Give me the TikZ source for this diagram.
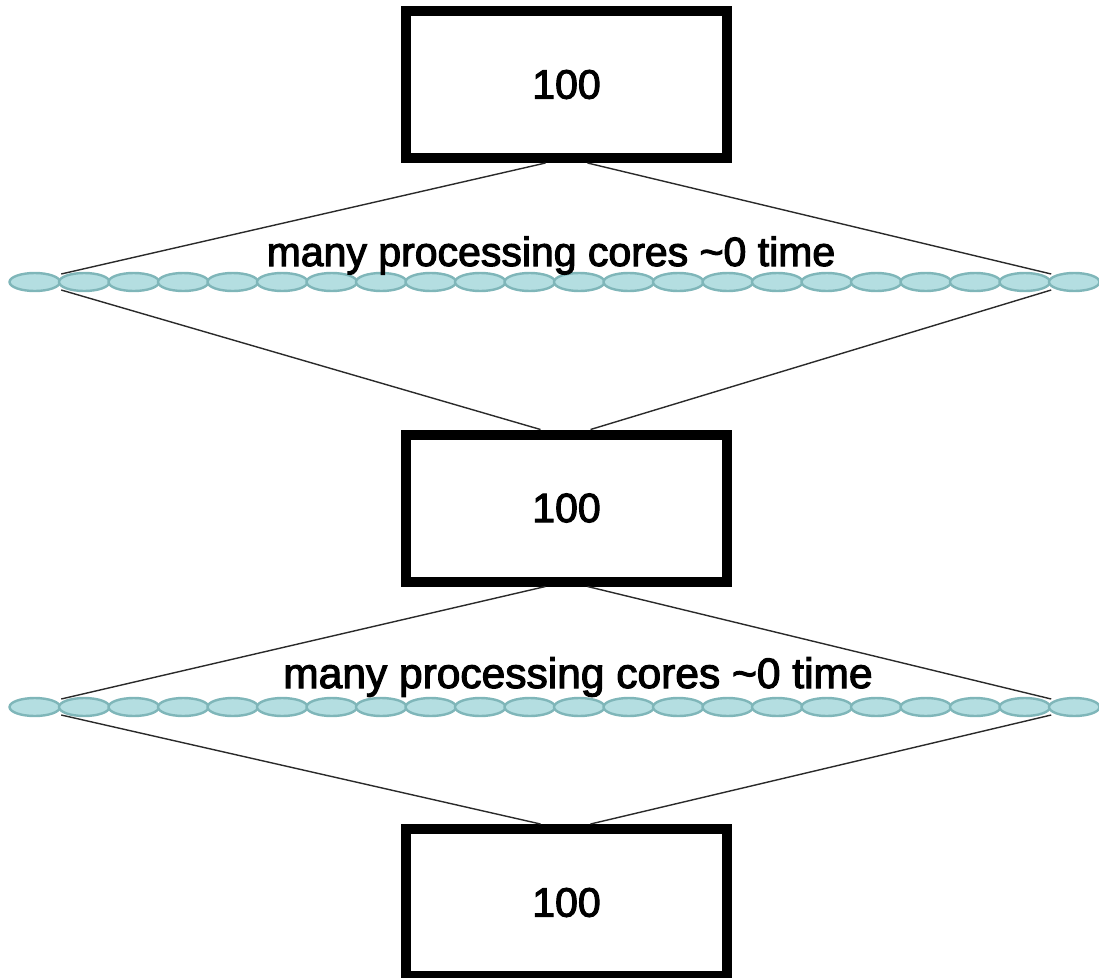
\documentclass[tikz,border=0pt]{standalone}
\usepackage{fontspec}
\setmainfont{Liberation Sans}[AutoFakeBold=2.6]
\usetikzlibrary{shapes.geometric}
\definecolor{corefill}{HTML}{B4DEE1}
\definecolor{coredraw}{HTML}{7FB6B9}
\definecolor{wire}{HTML}{2A2A2A}
\tikzset{
  valbox/.style={draw=black, line width=10pt, fill=white, minimum width=321pt, minimum height=147pt, inner sep=0pt, font=\fontsize{41}{41}\selectfont\bfseries},
  core/.style={ellipse, draw=coredraw, fill=corefill, line width=2.4pt, minimum width=50.5pt, minimum height=18pt, inner sep=0pt},
  wireline/.style={draw=wire, line width=1.4pt},
  caption/.style={inner sep=0pt, anchor=base}
}
\begin{document}
\begin{tikzpicture}[x=1pt,y=-1pt]
\useasboundingbox (0,0) rectangle (1099,977);
% boxes
\node[valbox] (box1) at (566.5,84.5) {100};
\node[valbox] (box2) at (566.5,508) {100};
\node[valbox] (box3) at (566.5,902.5) {100};
% core rows
\foreach \r/\y in {1/282,2/707}{
  \foreach \k in {1,...,22}{
    \node[core] (e\r-\k) at ({10+24.75+49.5*(\k-1)},\y) {};
  }
}
% captions
\node[caption, font=\fontsize{41}{41}\selectfont\bfseries] (cap1) at (551,266) {many processing cores \textasciitilde 0 time};
\node[caption, font=\fontsize{42.5}{42.5}\selectfont\bfseries] (cap2) at (578,688) {many processing cores \textasciitilde 0 time};
% junction coordinates
\coordinate (b1l) at ([xshift=-21pt]box1.south);
\coordinate (b1r) at ([xshift=21pt]box1.south);
\coordinate (b2tl) at ([xshift=-26pt]box2.north);
\coordinate (b2tr) at ([xshift=24pt]box2.north);
\coordinate (b2l) at ([xshift=-21pt]box2.south);
\coordinate (b2r) at ([xshift=21pt]box2.south);
\coordinate (b3tl) at ([xshift=-26pt]box3.north);
\coordinate (b3tr) at ([xshift=24pt]box3.north);
\coordinate (r1lu) at ([yshift=8pt]e1-1.east);
\coordinate (r1ld) at ([yshift=-8pt]e1-1.east);
\coordinate (r1ru) at ([yshift=8pt]e1-21.east);
\coordinate (r1rd) at ([yshift=-8pt]e1-21.east);
\coordinate (r2lu) at ([yshift=8pt]e2-1.east);
\coordinate (r2ld) at ([yshift=-8pt]e2-1.east);
\coordinate (r2ru) at ([yshift=8pt]e2-21.east);
\coordinate (r2rd) at ([yshift=-8pt]e2-21.east);
% wires
\draw[wireline] (b1l) -- (r1lu);
\draw[wireline] (b1r) -- (r1ru);
\draw[wireline] (r1ld) -- (b2tl);
\draw[wireline] (r1rd) -- (b2tr);
\draw[wireline] (b2l) -- (r2lu);
\draw[wireline] (b2r) -- (r2ru);
\draw[wireline] (r2ld) -- (b3tl);
\draw[wireline] (r2rd) -- (b3tr);
\end{tikzpicture}
\end{document}
